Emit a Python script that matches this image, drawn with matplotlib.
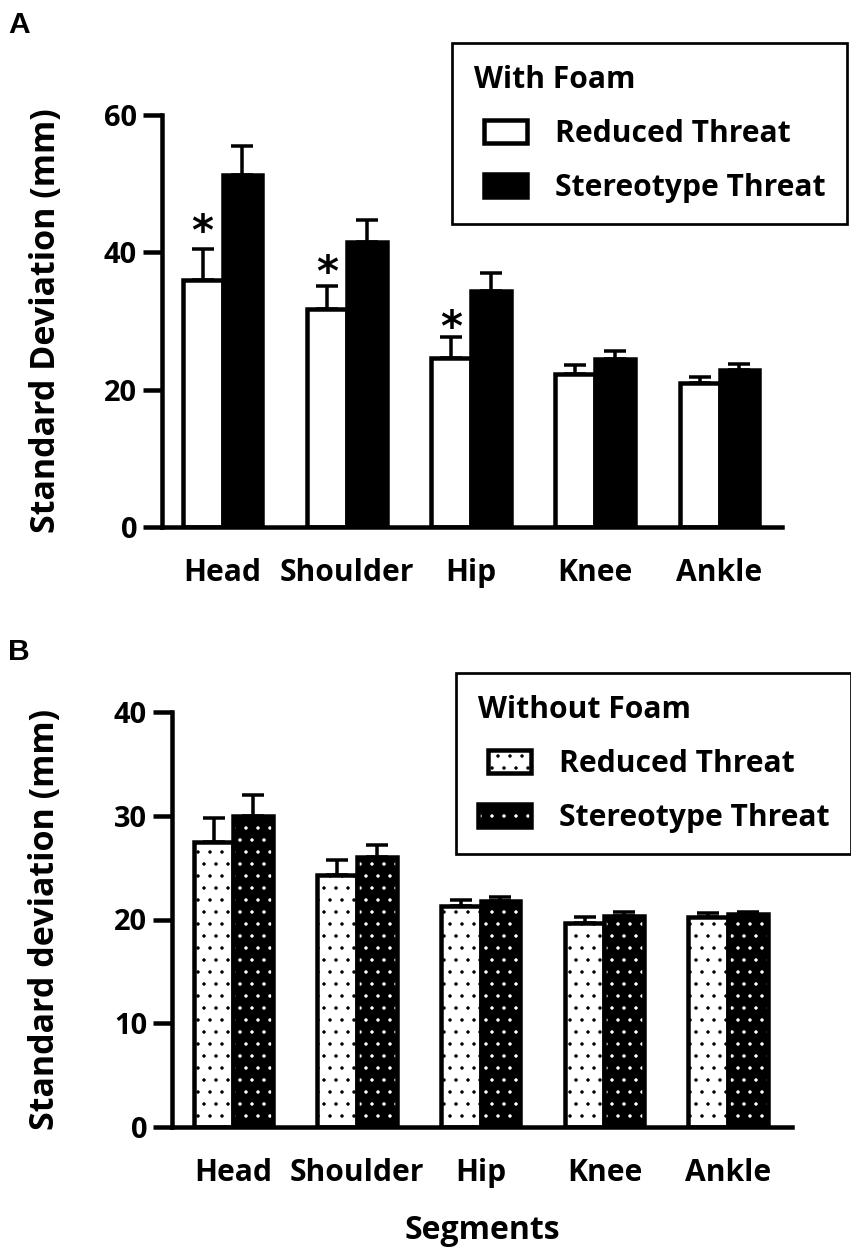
import numpy as np
import matplotlib
matplotlib.use('Agg')
import matplotlib.pyplot as plt
from matplotlib.legend_handler import HandlerPatch, HandlerTuple
from matplotlib.patches import Rectangle

segments = ['Head', 'Shoulder', 'Hip', 'Knee', 'Ankle']

# panel A, with foam
foam_reduced = [36.0, 31.7, 24.6, 22.3, 21.0]
foam_reduced_err = [4.5, 3.4, 3.0, 1.3, 0.9]
foam_stereo = [51.2, 41.5, 34.3, 24.5, 22.9]
foam_stereo_err = [4.3, 3.2, 2.7, 1.2, 0.8]
star_y = [44.0, 38.0, 30.0]   # asterisks over Head, Shoulder, Hip

# panel B, without foam
nofoam_reduced = [27.5, 24.3, 21.3, 19.7, 20.2]
nofoam_reduced_err = [2.3, 1.4, 0.6, 0.5, 0.4]
nofoam_stereo = [30.0, 26.0, 21.8, 20.3, 20.5]
nofoam_stereo_err = [2.0, 1.2, 0.4, 0.4, 0.2]

DPI = 72  # 1 pt == 1 px, and the '.' hatch gets a 12 px pitch
W, H = 851, 1255
FONT = 'Open Sans'
FS = 30      # tick labels
LFS = 30     # legend
AFS = 34     # y labels
LW = 4.5

plt.rcParams['font.family'] = [FONT, 'DejaVu Sans']
plt.rcParams['font.weight'] = 'bold'
plt.rcParams['hatch.linewidth'] = 1.0

fig = plt.figure(figsize=(W/DPI, H/DPI), dpi=DPI)
axA = fig.add_axes([162/W, 1-527/H, 620/W, 412/H])
axB = fig.add_axes([172/W, 1-1127/H, 620/W, 415/H])

x = np.arange(len(segments))
w = 0.32
ekw = dict(fmt='none', ecolor='black', elinewidth=3.5, capsize=11, capthick=3.5, zorder=1)


def style_axis(ax, yticks, ylabel, ylab_x):
    for side in ['top', 'right']:
        ax.spines[side].set_visible(False)
    for side in ['left', 'bottom']:
        ax.spines[side].set_linewidth(LW)
    ax.set_xticks(x)
    ax.set_xticklabels(segments, fontsize=FS, fontweight='bold')
    ax.set_yticks(yticks)
    ax.set_yticklabels([str(t) for t in yticks], fontsize=29, fontweight='bold')
    ax.tick_params(axis='x', length=0, pad=31)
    ax.tick_params(axis='y', length=19, width=LW, pad=6)
    ax.set_ylabel(ylabel, fontsize=AFS, fontweight='bold')
    ax.yaxis.set_label_coords(ylab_x, 0.5)


def add_legend(ax, handles, title, corner):
    leg = ax.legend(handles, ['Reduced Threat', 'Stereotype Threat'], title=title,
                    loc='upper left', bbox_to_anchor=(corner[0]/W, 1-corner[1]/H),
                    bbox_transform=fig.transFigure, borderaxespad=0,
                    fontsize=LFS, title_fontsize=LFS, alignment='left',
                    borderpad=0.72, labelspacing=0.8, handlelength=1.78,
                    handleheight=0.8, handletextpad=0.93, fancybox=False,
                    framealpha=1, edgecolor='black',
                    handler_map={Rectangle: HandlerPatch(xpad=0.35),
                                 tuple: HandlerTuple(ndivide=1)})
    leg.get_frame().set_linewidth(2.7)
    leg.get_title().set_fontweight('bold')
    for t in leg.get_texts():
        t.set_fontweight('bold')
    return leg


# ---- A ----
ba = axA.bar(x - w/2, foam_reduced, w, color='white', edgecolor='black', linewidth=LW, zorder=2)
bb = axA.bar(x + w/2, foam_stereo, w, color='black', edgecolor='black', linewidth=LW, zorder=2)
axA.errorbar(x - w/2, foam_reduced, yerr=[np.zeros(5), foam_reduced_err], **ekw)
axA.errorbar(x + w/2, foam_stereo, yerr=[np.zeros(5), foam_stereo_err], **ekw)
for i, sy in enumerate(star_y):
    # the glyph sits high in its text box, so nudge it down onto the point
    axA.annotate('*', (x[i] - w/2, sy), xytext=(0, -8), textcoords='offset points',
                 ha='center', va='center', fontsize=42, fontweight='bold',
                 family='DejaVu Sans')
axA.set_xlim(-0.487, 4.503)
axA.set_ylim(0, 60)
style_axis(axA, [0, 20, 40, 60], 'Standard Deviation (mm)', -0.16)
add_legend(axA, [ba[0], bb[0]], 'With Foam', (452, 43))

# ---- B ----
bc = axB.bar(x - w/2, nofoam_reduced, w, color='white', edgecolor='black', linewidth=LW,
             hatch='.', zorder=2)
bd = axB.bar(x + w/2, nofoam_stereo, w, color='black', edgecolor='white', linewidth=0,
             hatch='.', zorder=2)
be = axB.bar(x + w/2, nofoam_stereo, w, fill=False, edgecolor='black', linewidth=LW, zorder=2)
axB.errorbar(x - w/2, nofoam_reduced, yerr=[np.zeros(5), nofoam_reduced_err], **ekw)
axB.errorbar(x + w/2, nofoam_stereo, yerr=[np.zeros(5), nofoam_stereo_err], **ekw)
axB.set_xlim(-0.496, 4.517)
axB.set_ylim(0, 40)
style_axis(axB, [0, 10, 20, 30, 40], 'Standard deviation (mm)', -0.178)
axB.set_xlabel('Segments', fontsize=32, fontweight='bold', labelpad=26)
add_legend(axB, [bc[0], (bd[0], be[0])], 'Without Foam', (456, 673))

fig.text(8/W, 1-11/H, 'A', ha='left', va='top', fontsize=30, fontweight='bold',
         family='Liberation Sans')
fig.text(8/W, 1-638/H, 'B', ha='left', va='top', fontsize=30, fontweight='bold',
         family='Liberation Sans')

fig.savefig('out.png', dpi=DPI)
